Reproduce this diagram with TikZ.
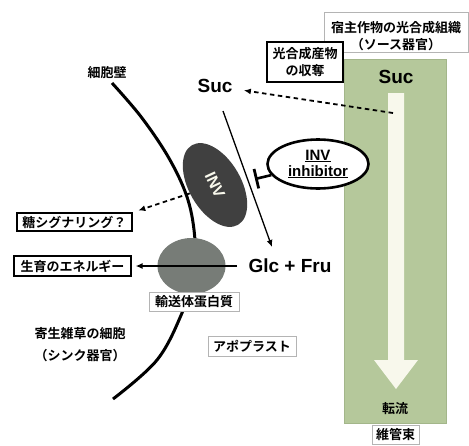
\documentclass[tikz,border=0pt]{standalone}
\usepackage{fontspec}
\setmainfont{Noto Sans CJK JP}[BoldFont={Noto Sans CJK JP Bold}]
\newfontfamily\lat{Liberation Sans}
\usetikzlibrary{arrows.meta,shapes.geometric}
\definecolor{vgreen}{HTML}{B5C89B}
\definecolor{vgreenedge}{HTML}{A3B68A}
\definecolor{cream}{HTML}{F8F8EC}
\definecolor{invgray}{HTML}{404040}
\definecolor{trgray}{HTML}{777C77}
\definecolor{boxgray}{HTML}{B4B4B4}
\begin{document}
\begin{tikzpicture}[x=1pt,y=-1pt,
  jp/.style={font=\fontsize{13}{17}\selectfont\bfseries},
  lbl/.style={jp, draw=black, line width=1.2pt, fill=white, inner sep=1.5pt, align=center},
  glbl/.style={jp, draw=boxgray, line width=0.7pt, fill=white, inner sep=1.5pt, align=center},
  big/.style={font=\lat\fontsize{19}{21}\selectfont\bfseries},
  tip/.style={-{Latex[length=7pt,width=6pt]}}
]
\useasboundingbox (0,0) rectangle (469,445);

% vascular bundle
\fill[vgreen, draw=vgreenedge, line width=0.5pt] (344,59) rectangle (446,423);
\fill[cream] (388,93) -- (404,93) -- (404,360) -- (418,360) -- (396,389) -- (374,360) -- (388,360) -- cycle;
\node[big] (sucg) at (396,77) {Suc};
\node[jp] (flow) at (395,409) {転流};
\node[glbl, minimum width=47pt, minimum height=19pt] (vb) at (395.5,435) {維管束};

% title
\node[glbl, minimum width=144pt, minimum height=40pt] (titlebox) at (396,32) {};
\node[jp, align=center] (title) at (396,36) {宿主作物の光合成組織\\（ソース器官）};
\node[lbl, minimum width=76pt, minimum height=40pt] (rob) at (305,62) {光合成産物\\の収奪};

% cell wall
\draw[line width=3pt] plot[smooth, tension=0.6] coordinates
  {(112,83) (142,118) (170,160) (188,200) (195,240) (194,275) (182,313) (157,360) (113,399)};
\node[jp] (wall) at (107,73) {細胞壁};

% enzymes
\node[ellipse, fill=invgray, minimum width=92pt, minimum height=52pt, rotate=-60, inner sep=0pt] (inv) at (215,185) {};
\node[font=\lat\fontsize{16}{17}\selectfont\bfseries, text=cream, rotate=-65] (invtext) at (inv.center) {INV};
\node[ellipse, fill=trgray, minimum width=68pt, minimum height=56pt, inner sep=0pt] (tr) at (191.5,266) {};

\node[ellipse, draw, line width=2.6pt, fill=white, minimum width=101pt, minimum height=49pt, inner sep=0pt,
  font=\lat\fontsize{15}{16}\selectfont\bfseries, align=center] (inh) at (318,164) {\underline{INV}\\\underline{inhibitor}};

% sugars
\node[big] (suc) at (215,86) {Suc};
\node[big] (glc) at (290,266) {Glc + Fru};

% connectors
\coordinate (src) at (393,113);
\draw[line width=1.8pt, dash pattern=on 4.5pt off 3.5pt, tip, shorten >=8pt] (src) -- (suc);
\coordinate (a1) at (223,111);
\coordinate (a2) at (272,247);
\draw[line width=1.3pt, tip] (a1) -- (a2);
\coordinate (tb) at (255,179);
\draw[line width=2.6pt, -{Bar[width=20pt,line width=2.8pt]}] (inh) -- (tb);

% labels
\node[lbl, minimum width=115pt, minimum height=18pt] (sig) at (74.5,222) {糖シグナリング？};
\node[lbl, minimum width=117pt, minimum height=20pt] (en) at (72.5,266) {生育のエネルギー};
\draw[line width=1.8pt, dash pattern=on 4.5pt off 3.5pt, tip, shorten >=6pt] (inv) -- (sig.north east);
\draw[line width=1.8pt, tip, shorten <=8pt, shorten >=4pt] (glc.west) -- (en.east);

\node[glbl, minimum width=90pt, minimum height=19pt] (trl) at (194,302) {輸送体蛋白質};
\node[glbl, minimum width=88pt, minimum height=20pt] (apo) at (252,346) {アポプラスト};
\node[jp, align=center, font=\fontsize{13}{22}\selectfont\bfseries] (par) at (80,345) {寄生雑草の細胞\\（シンク器官）};
\end{tikzpicture}
\end{document}
